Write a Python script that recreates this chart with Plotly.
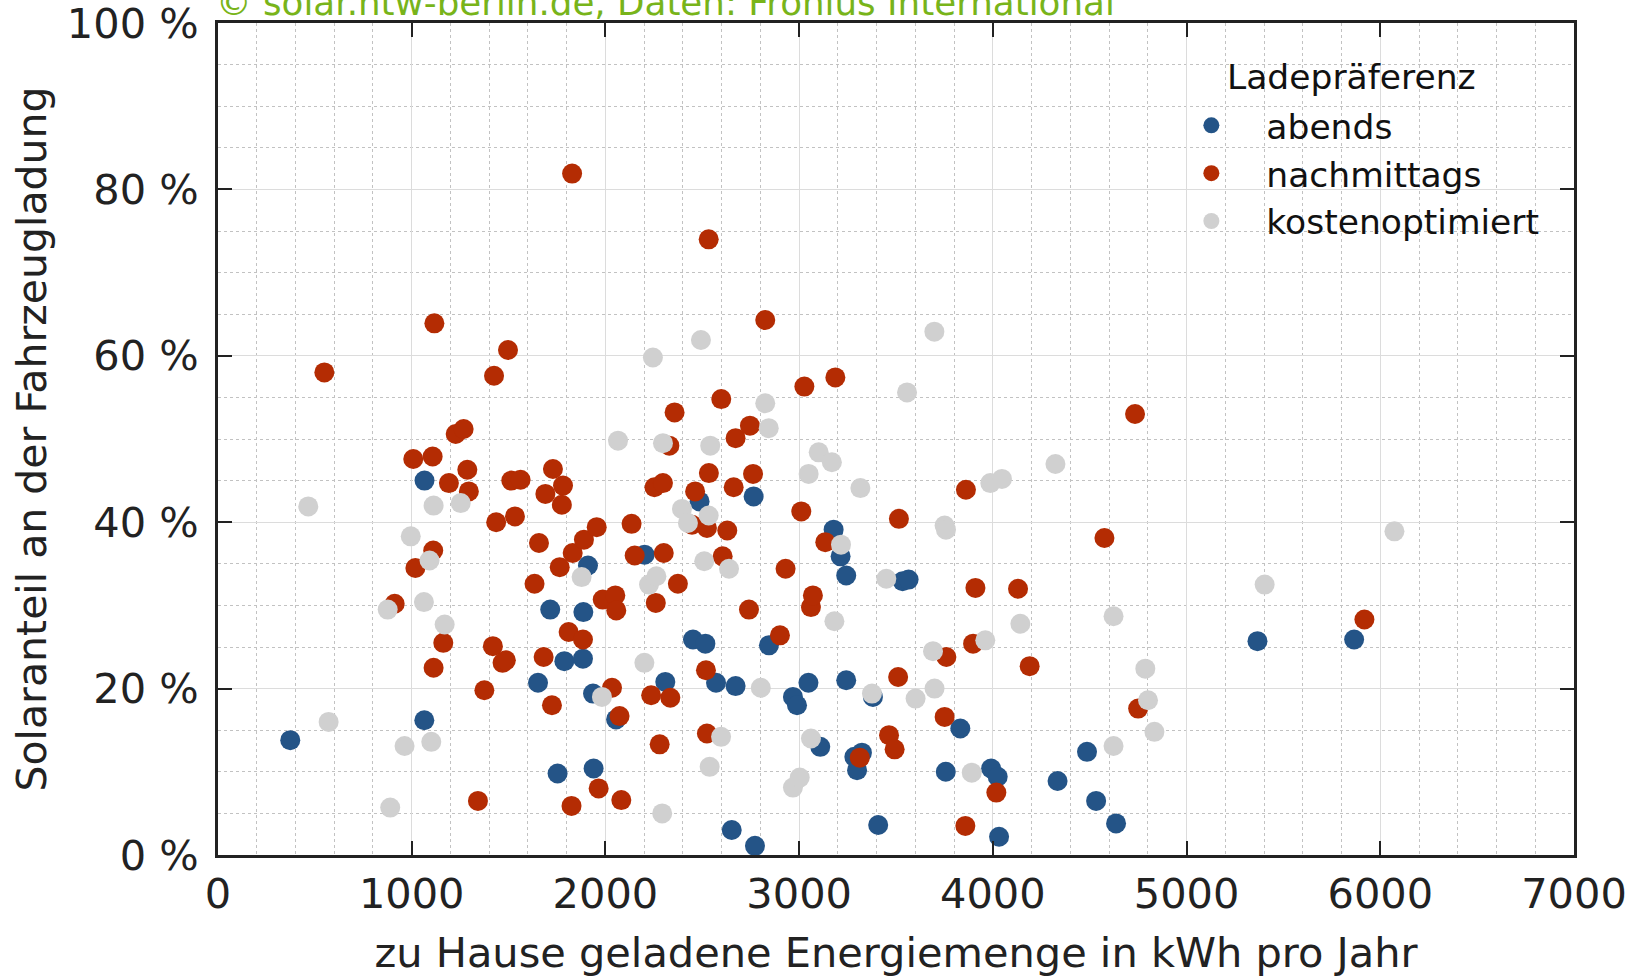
import plotly.graph_objects as go

# ---------------- data ----------------
abends_x = [373, 1066, 1065, 1715, 1788, 1753, 1652, 1910, 1886, 1884, 1936, 1939, 2202, 2309, 2486,
            2452, 2516, 2571, 2672, 2652, 2765, 2772, 2844, 2968, 2989, 3048, 3109, 3178, 3214, 3243,
            3243, 3285, 3324, 3299, 3381, 3408, 3534, 3565, 3832, 3757, 3991, 4025, 4032, 4334, 4486,
            4533, 4636, 5366, 5865, 2055]
abends_y = [13.8, 45.0, 16.2, 29.5, 23.3, 9.8, 20.7, 34.8, 29.2, 23.6, 19.4, 10.4, 36.1, 20.8, 42.5,
            25.9, 25.4, 20.7, 20.3, 3.0, 43.1, 1.1, 25.2, 19.0, 18.0, 20.7, 13.0, 39.1, 35.9, 33.6,
            21.0, 11.8, 12.3, 10.2, 19.0, 3.6, 32.9, 33.1, 15.2, 10.0, 10.4, 9.4, 2.2, 8.9, 12.4,
            6.5, 3.8, 25.7, 25.9, 16.3]

nachmittags_x = [549, 912, 1008, 1019, 1117, 1108, 1111, 1113, 1163, 1192, 1227, 1268, 1287, 1295, 1342,
                 1375, 1425, 1436, 1419, 1469, 1486, 1497, 1514, 1562, 1533, 1634, 1657, 1681, 1690, 1724,
                 1729, 1764, 1781, 1775, 1810, 1828, 1831, 1825, 1889, 1884, 1955, 1965, 1986, 2034, 2051,
                 2056, 2073, 2082, 2135, 2151, 2236, 2253, 2260, 2280, 2297, 2301, 2330, 2335, 2357, 2374,
                 2447, 2463, 2524, 2533, 2519, 2524, 2534, 2598, 2605, 2629, 2662, 2672, 2741, 2746, 2762,
                 2825, 2901, 2930, 3011, 3027, 3061, 3071, 3135, 3187, 3313, 3464, 3493, 3511, 3515, 3751,
                 3760, 3858, 3861, 3898, 3910, 4018, 4130, 4190, 4576, 4734, 4750, 5918]
nachmittags_y = [58.0, 30.2, 47.6, 34.5, 63.9, 47.9, 36.6, 22.5, 25.5, 44.7, 50.6, 51.2, 46.3, 43.7, 6.5,
                 19.8, 57.6, 40.0, 25.1, 23.1, 23.4, 60.7, 45.0, 45.1, 40.7, 32.6, 37.5, 23.8, 43.4, 18.0,
                 46.4, 34.6, 44.4, 42.1, 26.8, 81.9, 36.3, 5.9, 37.9, 25.9, 39.4, 8.0, 30.7, 20.1, 31.2,
                 29.4, 16.7, 6.6, 39.8, 36.0, 19.2, 44.2, 30.3, 13.3, 44.7, 36.3, 49.2, 18.9, 53.2, 32.6,
                 39.7, 43.7, 39.3, 74.0, 22.2, 14.6, 45.9, 54.8, 35.9, 39.0, 44.2, 50.1, 29.5, 51.6, 45.8,
                 64.3, 26.4, 34.4, 41.3, 56.3, 29.8, 31.2, 37.6, 57.4, 11.7, 14.4, 12.7, 21.4, 40.4, 16.6,
                 23.8, 3.5, 43.9, 25.4, 32.1, 7.5, 32.0, 22.7, 38.1, 53.0, 17.6, 28.3]

kostenoptimiert_x = [466, 571, 876, 889, 963, 995, 1063, 1092, 1101, 1113, 1170, 1253, 1877, 1982, 2065,
                     2201, 2225, 2263, 2245, 2297, 2293, 2395, 2426, 2493, 2510, 2533, 2541, 2538, 2597, 2638,
                     2802, 2825, 2843, 2968, 3003, 3049, 3061, 3101, 3169, 3182, 3216, 3316, 3376, 3450, 3557,
                     3601, 3691, 3698, 3699, 3751, 3758, 3891, 3961, 3987, 4047, 4142, 4323, 4623, 4623, 4787,
                     4801, 4834, 5403, 6073]
kostenoptimiert_y = [41.9, 16.0, 29.5, 5.7, 13.1, 38.3, 30.4, 35.4, 13.6, 42.0, 27.7, 42.3, 33.4, 19.0, 49.8,
                     23.1, 32.5, 33.5, 59.8, 49.5, 5.0, 41.6, 39.9, 61.9, 35.3, 40.8, 49.2, 10.6, 14.2, 34.4,
                     20.1, 54.3, 51.3, 8.1, 9.3, 45.8, 14.0, 48.4, 47.2, 28.1, 37.3, 44.1, 19.4, 33.2, 55.6,
                     18.8, 24.5, 62.9, 20.0, 39.6, 39.1, 9.9, 25.8, 44.7, 45.2, 27.8, 47.0, 28.7, 13.1, 22.4,
                     18.6, 14.8, 32.5, 38.9]

x_ticks = [0, 1000, 2000, 3000, 4000, 5000, 6000, 7000]
x_ticklabels = ["0", "1000", "2000", "3000", "4000", "5000", "6000", "7000"]
y_ticks = [0, 20, 40, 60, 80, 100]
y_ticklabels = ["0 %", "20 %", "40 %", "60 %", "80 %", "100 %"]

series_names = ["abends", "nachmittags", "kostenoptimiert"]
series_colors = ["#245487", "#b42c03", "#d0d0d0"]

# ---------------- figure ----------------
FONT = "DejaVu Sans"
fig = go.Figure()
for name, xs, ys, col in zip(series_names,
                             [abends_x, nachmittags_x, kostenoptimiert_x],
                             [abends_y, nachmittags_y, kostenoptimiert_y],
                             series_colors):
    fig.add_trace(go.Scatter(x=xs, y=ys, mode="markers", name=name,
                             marker=dict(size=20, color=col, line=dict(width=0)),
                             cliponaxis=True))

axis_common = dict(showline=True, linecolor="#222222", linewidth=3, mirror="ticks",
                   ticks="inside", ticklen=14, tickwidth=2, tickcolor="#222222",
                   showgrid=True, gridcolor="#dcdcdc", gridwidth=1, zeroline=False,
                   ticklabeloverflow="allow",
                   tickfont=dict(family=FONT, size=41.5, color="#222222"))

fig.update_xaxes(range=[0, 7000], tickmode="array", tickvals=x_ticks, ticktext=x_ticklabels,
                 minor=dict(dtick=200, tick0=0, showgrid=True, gridcolor="#c2c2c2",
                            griddash="dot", gridwidth=1),
                 title=dict(text="zu Hause geladene Energiemenge in kWh pro Jahr",
                            font=dict(family=FONT, size=41.5, color="#222222"), standoff=23),
                 ticklabelstandoff=0, **axis_common)
fig.update_yaxes(range=[0, 100], tickmode="array", tickvals=y_ticks, ticktext=y_ticklabels,
                 minor=dict(dtick=5, tick0=0, showgrid=True, gridcolor="#c2c2c2",
                            griddash="dot", gridwidth=1),
                 title=dict(text="Solaranteil an der Fahrzeugladung",
                            font=dict(family=FONT, size=41, color="#222222"), standoff=8),
                 ticklabelstandoff=8, **axis_common)

fig.update_layout(
    width=1629, height=977,
    margin=dict(l=218, r=55, t=23, b=122, autoexpand=False),
    paper_bgcolor="white", plot_bgcolor="white",
    font=dict(family=FONT, color="#222222"),
    legend=dict(font=dict(family=FONT, size=34.5, color="#111111"),
                x=0.692, y=0.9118, xanchor="left", yanchor="top",
                bgcolor="rgba(0,0,0,0)", itemwidth=100, tracegroupgap=0),
    annotations=[
        dict(text="© solar.htw-berlin.de, Daten: Fronius International",
             xref="paper", yref="paper", x=0, y=1, xanchor="left", yanchor="bottom",
             xshift=-4, yshift=-2,
             showarrow=False, font=dict(family=FONT, size=35.7, color="#78b41a")),
        dict(text="Ladepräferenz", xref="paper", yref="paper", x=0.7429, y=0.9351,
             xanchor="left", yanchor="middle", showarrow=False,
             font=dict(family=FONT, size=34.5, color="#111111")),
    ],
)

fig.write_html("out.html")
